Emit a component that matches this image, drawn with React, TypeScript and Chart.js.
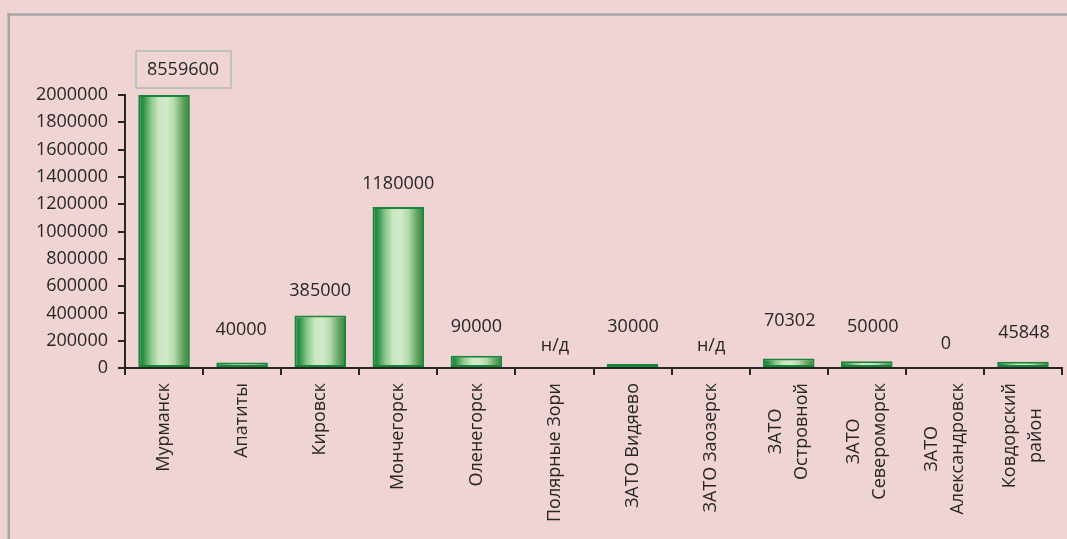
import React, { useEffect, useRef } from "react";
import { Chart, registerables } from "chart.js";

Chart.register(...registerables);

// ---- data ----
const categories: (string | string[])[] = [
  "Мурманск",
  "Апатиты",
  "Кировск",
  "Мончегорск",
  "Оленегорск",
  "Полярные Зори",
  "ЗАТО Видяево",
  "ЗАТО Заозерск",
  ["ЗАТО", "Островной"],
  ["ЗАТО", "Североморск"],
  ["ЗАТО", "Александровск"],
  ["Ковдорский", "район"],
];
const values: (number | null)[] = [
  8559600, 40000, 385000, 1180000, 90000, null, 30000, null, 70302, 50000, 0, 45848,
];
const yMin = 0;
const yMax = 2000000;
const yStep = 200000;
const noDataText = "н/д";

// ---- style ----
const FONT = "'Open Sans', sans-serif";
const FONT_SIZE = 18;
const TEXT = "#262626";
const BG = "#f0d4d4";
const FRAME = "#a6a6a6";
const AXIS = "#262626";
const BAR_BORDER = "#16873a";
const LINE_H = 26;
const X_LABEL_TOP_GAP = 15;
// value label placement (pixels above the bar top / sideways)
const labelLift = [26.5, 34, 25.5, 24, 30.5, 23, 38, 23, 39, 36, 25, 30];
const labelShift = [19, -1, 0, 0, 0, 0.5, 0.5, 0.5, 1, 6, 1, 1];

const BAR_PCT = 0.66;

function makeGradient(c: CanvasRenderingContext2D, left: number, right: number) {
  const g = c.createLinearGradient(left, 0, right, 0);
  g.addColorStop(0, "#13803a");
  g.addColorStop(0.1, "#2f9048");
  g.addColorStop(0.25, "#8cc88c");
  g.addColorStop(0.4, "#cae7c2");
  g.addColorStop(0.55, "#d1eacb");
  g.addColorStop(0.7, "#b2d9aa");
  g.addColorStop(0.85, "#6aa867");
  g.addColorStop(1, "#2a7f38");
  return g;
}

// scriptable so every bar gets its own options object
function barFill(ctx: any) {
  return ctx.dataIndex >= 0 ? "#a9d8a5" : "#a9d8a5";
}

const framePlugin = {
  id: "frame",
  beforeDraw(chart: any) {
    const { ctx, width, height } = chart;
    ctx.save();
    ctx.fillStyle = BG;
    ctx.fillRect(0, 0, width, height);
    ctx.fillStyle = FRAME;
    ctx.fillRect(7.5, 13.25, 2.5, height - 13.25);
    ctx.fillRect(7.5, 13.25, width - 7.5, 2.5);
    ctx.restore();
  },
  beforeDatasetsDraw(chart: any) {
    const meta = chart.getDatasetMeta(0);
    meta.data.forEach((el: any) => {
      const w = el.width;
      if (!isFinite(el.x) || !isFinite(w)) return;
      el.options.backgroundColor = makeGradient(chart.ctx, el.x - w / 2, el.x + w / 2);
    });
  },
};

const labelsPlugin = {
  id: "labels",
  afterDraw(chart: any) {
    const { ctx } = chart;
    const xs = chart.scales.x;
    const ys = chart.scales.y;
    ctx.save();
    ctx.font = `${FONT_SIZE}px ${FONT}`;
    ctx.fillStyle = TEXT;

    categories.forEach((lab, i) => {
      const lines = Array.isArray(lab) ? lab : [lab];
      const cx = xs.getPixelForValue(i);
      const maxW = Math.max(...lines.map((l) => ctx.measureText(l).width));
      ctx.save();
      ctx.translate(cx, chart.chartArea.bottom + X_LABEL_TOP_GAP);
      ctx.rotate(-Math.PI / 2);
      ctx.textAlign = "center";
      ctx.textBaseline = "middle";
      lines.forEach((l, k) => {
        ctx.fillText(l, -maxW / 2, (k - (lines.length - 1) / 2) * LINE_H);
      });
      ctx.restore();
    });

    const capHalf = FONT_SIZE * 0.357;
    values.forEach((v, i) => {
      const top = ys.getPixelForValue(Math.min(v ?? 0, yMax));
      const cx = xs.getPixelForValue(i) + labelShift[i];
      const cy = top - labelLift[i];
      const text = v === null ? noDataText : String(v);
      ctx.textAlign = "center";
      ctx.textBaseline = "alphabetic";
      if (v !== null && v > yMax) {
        const tw = ctx.measureText(text).width;
        ctx.strokeStyle = "#bfbfbf";
        ctx.lineWidth = 2;
        ctx.strokeRect(cx - tw / 2 - 11, cy - 17.5, tw + 23, 37);
      }
      ctx.fillText(text, cx, cy + capHalf);
    });
    ctx.restore();
  },
};

export default function App() {
  const ref = useRef<HTMLCanvasElement | null>(null);

  useEffect(() => {
    if (!ref.current) return;
    Chart.defaults.font.family = FONT;
    Chart.defaults.font.size = FONT_SIZE;
    Chart.defaults.color = TEXT;

    const chart = new Chart(ref.current, {
      type: "bar",
      data: {
        labels: categories.map((c) => (Array.isArray(c) ? c.join(" ") : c)),
        datasets: [
          {
            data: values.map((v) => (v === null ? null : Math.min(v, yMax))),
            backgroundColor: barFill as any,
            borderColor: BAR_BORDER,
            borderWidth: 2,
            borderSkipped: false,
            categoryPercentage: 1,
            barPercentage: BAR_PCT,
          },
        ],
      },
      options: {
        responsive: false,
        animation: false,
        devicePixelRatio: 1,
        layout: { padding: { left: 8, top: 95, right: 5, bottom: 0 } },
        plugins: {
          legend: { display: false },
          tooltip: { enabled: false },
        },
        scales: {
          x: {
            grid: {
              offset: true,
              drawOnChartArea: false,
              drawTicks: true,
              tickLength: 7,
              color: AXIS,
              lineWidth: 2,
            },
            border: { display: true, color: AXIS, width: 2 },
            ticks: { display: false },
            afterFit: (s: any) => {
              s.height = 539 - 368;
            },
          },
          y: {
            min: yMin,
            max: yMax,
            grid: {
              drawOnChartArea: false,
              drawTicks: true,
              tickLength: 7,
              color: AXIS,
              lineWidth: 2,
            },
            border: { display: true, color: AXIS, width: 2 },
            ticks: {
              stepSize: yStep,
              padding: 10,
              color: TEXT,
              font: { family: FONT, size: FONT_SIZE },
              callback: (v: any) => String(v),
            },
            afterFit: (s: any) => {
              s.width = 117;
            },
          },
        },
      },
      plugins: [framePlugin, labelsPlugin],
    });
    return () => chart.destroy();
  }, []);

  return (
    <div style={{ position: "absolute", left: 0, top: 0, width: 1067, height: 539 }}>
      <canvas ref={ref} width={1067} height={539} style={{ display: "block" }} />
    </div>
  );
}
